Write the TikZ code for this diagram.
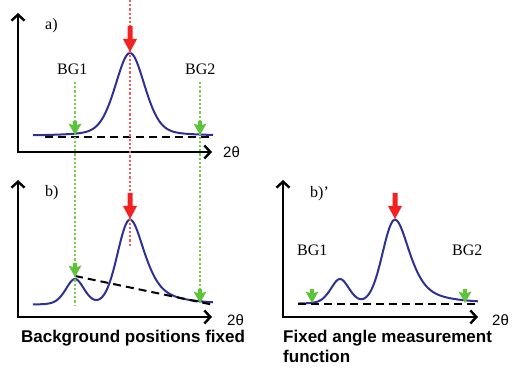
\documentclass[tikz,border=0pt]{standalone}
\usepackage{fontspec}
\setmainfont{Liberation Serif}
\newfontfamily\sansf{Liberation Sans}
\usetikzlibrary{arrows.meta}
\definecolor{curveblue}{HTML}{2E3192}
\definecolor{pkred}{HTML}{F22222}
\definecolor{bggreen}{HTML}{5EC23A}
\definecolor{dotgreen}{HTML}{7ACC50}
\definecolor{dotred}{HTML}{F25A5A}
\newcommand{\bgarrow}[2]{\fill[bggreen] (#1-2.2,#2-14) -- (#1+2.2,#2-14) -- (#1+2.2,#2-10) -- (#1+6.5,#2-11.5) -- (#1,#2) -- (#1-6.5,#2-11.5) -- (#1-2.2,#2-10) -- cycle;}
\newcommand{\pkarrow}[2]{\fill[pkred] (#1-2.5,#2-26) -- (#1+2.5,#2-26) -- (#1+2.5,#2-13) -- (#1+7,#2-13) -- (#1,#2) -- (#1-7,#2-13) -- (#1-2.5,#2-13) -- cycle;}
\begin{document}
\begin{tikzpicture}[x=1pt,y=-1pt,
  declare function={
    pv(\t,\w,\e)=(1-\e)*exp(-2.7726*(\t/\w)*(\t/\w)) + \e/(1+(2*\t/\w)*(2*\t/\w));
    mainpk(\t)=(\t<0) ? pv(\t,29,0) : pv(\t,36,0.7);
  },
  axis/.style={line width=2.4pt, line join=miter, {Straight Barb[length=6pt,width=13pt]}-{Straight Barb[length=6pt,width=13pt]}},
  curve/.style={curveblue, line width=2pt, line join=round},
  bgline/.style={black, line width=2pt, dash pattern=on 8pt off 5pt},
  gdot/.style={dotgreen, line width=2.6pt, dash pattern=on 2.2pt off 2pt},
  rdot/.style={dotred, line width=2.4pt, dash pattern=on 2.2pt off 2pt},
  lbl/.style={font=\fontsize{16}{18}\selectfont, inner sep=0pt, anchor=base west},
  thl/.style={font=\sansf\fontsize{15}{18}\selectfont, inner sep=0pt, anchor=base west},
  ttl/.style={font=\sansf\bfseries\fontsize{17}{20}\selectfont, inner sep=0pt}
]
\useasboundingbox (0,0) rectangle (519,379);

% axes
\draw[axis] (18,13) -- (18,152) -- (212,152);
\draw[axis] (18,180) -- (18,317) -- (212,317);
\draw[axis] (283,180) -- (283,317) -- (478,317);

% curves
\draw[curve] plot[domain=33:213,samples=181] (\x,{136-83*pv(\x-130,35,0.3)});
\draw[curve] plot[domain=33:213,samples=181] (\x,{305-26*pv(\x-75,22,0.3)-85*mainpk(\x-130)});
\draw[curve] plot[domain=298:478,samples=181] (\x,{304-25*pv(\x-340,22,0.3)-84*mainpk(\x-395)});

% background lines
\draw[bgline] (45,137) -- (214,137);
\draw[bgline] (75,276) -- (214,305);
\draw[bgline] (298,304) -- (478,304);

% dotted guides
\draw[rdot] (130,0) -- (130,247);
\draw[gdot] (75,82) -- (75,306);
\draw[gdot] (200,82) -- (200,303);

% arrows
\pkarrow{130}{52}
\pkarrow{130}{219}
\pkarrow{395}{219}
\bgarrow{75}{135}
\bgarrow{200}{135}
\bgarrow{75}{277}
\bgarrow{200}{303}
\bgarrow{312}{303}
\bgarrow{465}{303}

% labels
\node[lbl] (la) at (45,30) {a)};
\node[lbl] (a1) at (57,75) {BG1};
\node[lbl] (a2) at (185,75) {BG2};
\node[thl] (ta) at (223,158) {2θ};
\node[lbl] (lb) at (45,197) {b)};
\node[thl] (tb) at (227,325) {2θ};
\node[lbl] (lc) at (310,198) {b)’};
\node[lbl] (c1) at (297,255) {BG1};
\node[lbl] (c2) at (452,255) {BG2};
\node[thl] (tc) at (492,325) {2θ};
\node[ttl, anchor=base] (t1) at (133,342) {Background positions fixed};
\node[ttl, anchor=base west] (t2) at (283,342) {Fixed angle measurement};
\node[ttl, anchor=base west] (t3) at (283,362) {function};
\end{tikzpicture}
\end{document}
